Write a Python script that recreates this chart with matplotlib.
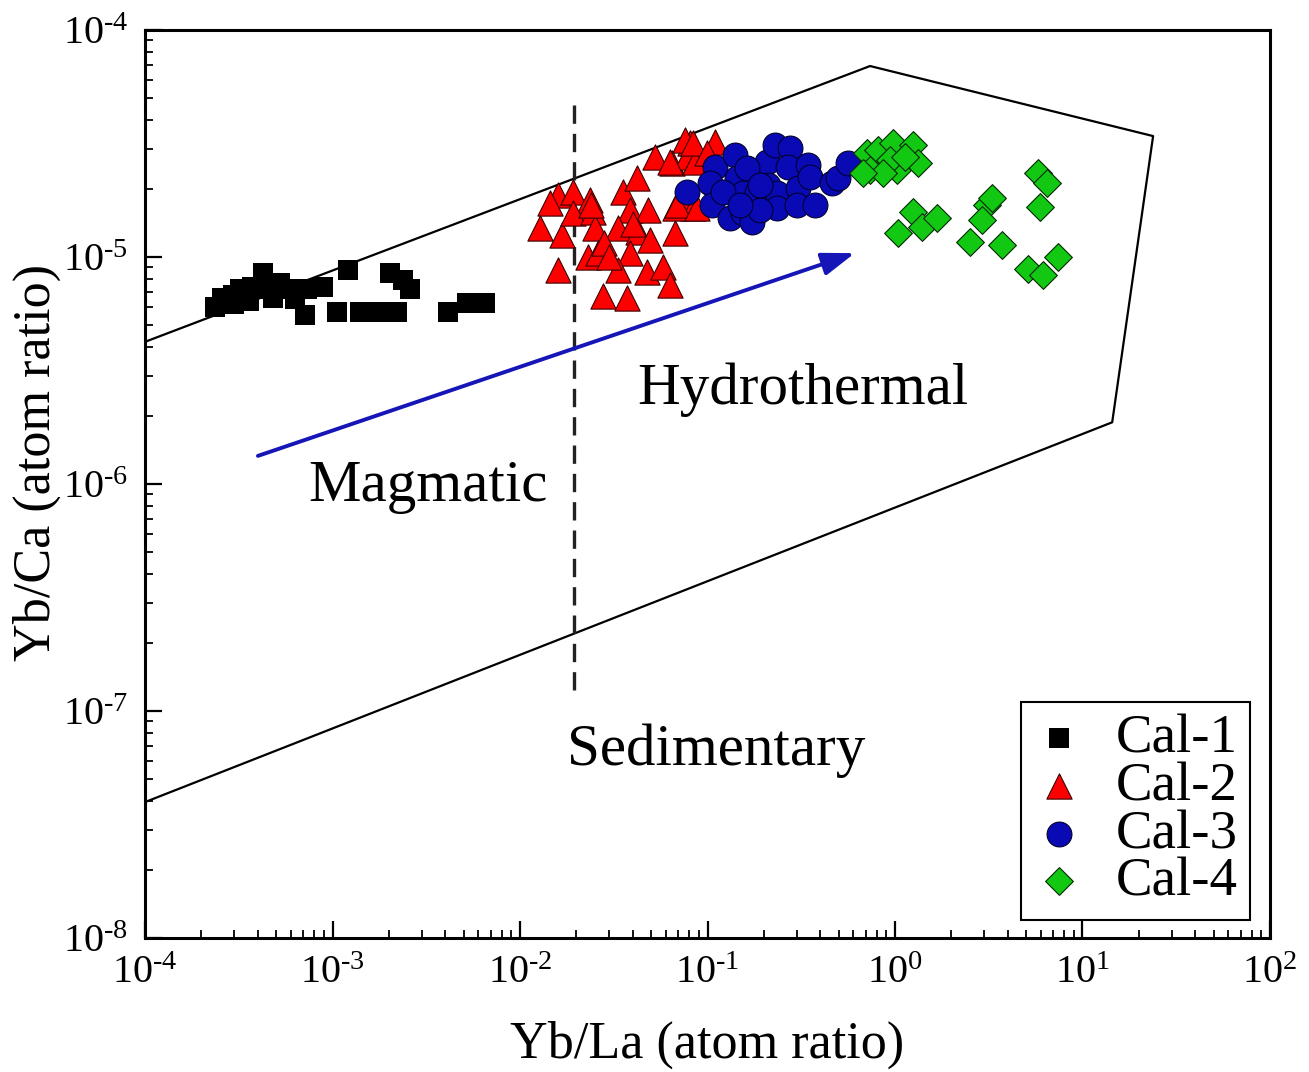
import matplotlib
matplotlib.use('Agg')
import matplotlib.pyplot as plt
from matplotlib.ticker import FuncFormatter
import numpy as np

plt.rcParams['font.family'] = ['Liberation Serif', 'DejaVu Serif']
plt.rcParams['mathtext.fontset'] = 'custom'
plt.rcParams['mathtext.rm'] = 'Liberation Serif'
plt.rcParams['mathtext.it'] = 'Liberation Serif:italic'
plt.rcParams['mathtext.bf'] = 'Liberation Serif:bold'

# Cal-1
cal1_x = [2.36e-4, 2.57e-4, 2.95e-4, 3.21e-4, 3.72e-4, 4.26e-4, 4.21e-4, 5.25e-4,
          5.72e-4, 7.3e-4, 8.9e-4, 7.1e-4, 1.06e-3, 1.40e-3, 1.73e-3, 2.21e-3,
          1.21e-3, 2.03e-3, 2.38e-3, 2.59e-3, 4.13e-3, 5.2e-3, 6.5e-3,
          3.0e-4, 4.8e-4, 6.3e-4, 3.6e-4]
cal1_y = [6.0e-6, 6.6e-6, 6.8e-6, 7.2e-6, 7.4e-6, 8.5e-6, 7.2e-6, 7.7e-6,
          7.2e-6, 7.2e-6, 7.4e-6, 5.55e-6, 5.7e-6, 5.7e-6, 5.7e-6, 5.7e-6,
          8.8e-6, 8.5e-6, 7.9e-6, 7.2e-6, 5.7e-6, 6.3e-6, 6.3e-6,
          6.2e-6, 6.6e-6, 6.5e-6, 6.4e-6]

# Cal-2
cal2_x = [0.0160, 0.0145, 0.0192, 0.0236, 0.0128, 0.0168, 0.0192, 0.0245, 0.0251,
          0.0231, 0.0261, 0.0160, 0.0354, 0.0421, 0.0386, 0.0482, 0.0334, 0.0426,
          0.0493, 0.0386, 0.0334, 0.0475, 0.0579, 0.0277, 0.0372, 0.0631, 0.0671,
          0.0525, 0.0647, 0.0807, 0.0778, 0.0858, 0.0713, 0.0837, 0.0671, 0.0759,
          0.0837, 0.1096, 0.0631, 0.028, 0.030, 0.040, 0.024, 0.0688, 0.0879, 0.0994]
cal2_y = [1.87e-5, 1.73e-5, 1.93e-5, 1.78e-5, 1.34e-5, 1.25e-5, 1.56e-5, 1.58e-5, 1.34e-5,
          1.0e-5, 1.04e-5, 8.8e-6, 1.93e-5, 2.23e-5, 1.61e-5, 1.61e-5, 1.34e-5, 1.29e-5,
          1.19e-5, 1.04e-5, 8.8e-6, 8.6e-6, 9.0e-6, 6.7e-6, 6.6e-6, 7.5e-6, 1.28e-5,
          2.76e-5, 2.60e-5, 3.18e-5, 2.76e-5, 2.62e-5, 1.78e-5, 1.64e-5, 1.64e-5, 3.28e-5,
          3.18e-5, 3.21e-5, 2.62e-5, 1.15e-5, 1.0e-5, 1.4e-5, 1.7e-5, 1.69e-5, 1.64e-5, 2.87e-5]

# Cal-3
cal3_x = [0.078, 0.110, 0.103, 0.106, 0.140, 0.144, 0.155, 0.132, 0.155, 0.173,
          0.184, 0.208, 0.210, 0.229, 0.275, 0.269, 0.235, 0.235, 0.191, 0.304,
          0.300, 0.344, 0.352, 0.374, 0.461, 0.497, 0.561, 0.163, 0.121, 0.191, 0.149]
cal3_y = [1.93e-5, 2.49e-5, 2.12e-5, 1.69e-5, 2.81e-5, 2.23e-5, 1.91e-5, 1.48e-5, 1.56e-5, 1.43e-5,
          1.93e-5, 2.62e-5, 2.08e-5, 3.11e-5, 3.02e-5, 2.49e-5, 1.91e-5, 1.64e-5, 1.61e-5, 2.01e-5,
          1.69e-5, 2.54e-5, 2.25e-5, 1.69e-5, 2.12e-5, 2.23e-5, 2.60e-5, 2.47e-5, 1.93e-5, 2.08e-5, 1.69e-5]

# Cal-4
cal4_x = [0.709, 0.811, 0.736, 0.975, 1.025, 0.940, 1.247, 1.327, 1.130, 0.863, 0.675,
          1.247, 1.393, 1.675, 1.037, 3.10, 3.29, 2.91, 2.51, 3.72,
          5.79, 6.47, 5.93, 5.12, 6.15, 7.40]
cal4_y = [2.87e-5, 2.96e-5, 2.42e-5, 3.18e-5, 2.42e-5, 2.68e-5, 3.11e-5, 2.60e-5, 2.76e-5, 2.34e-5, 2.34e-5,
          1.58e-5, 1.36e-5, 1.48e-5, 1.28e-5, 1.69e-5, 1.82e-5, 1.46e-5, 1.16e-5, 1.13e-5,
          2.34e-5, 2.12e-5, 1.66e-5, 8.9e-6, 8.3e-6, 1.0e-5]

# hydrothermal field outline
field_x = [1e-4, 0.736, 23.8, 14.4, 1e-4]
field_y = [4.23e-6, 6.94e-5, 3.41e-5, 1.87e-6, 3.97e-8]

# magmatic / sedimentary divider
divider_x = 0.0194
divider_y = [1.24e-7, 4.68e-5]

# evolution arrow
arrow_start = (4.0e-4, 1.33e-6)
arrow_end = (0.61, 1.04e-5)


def pow10(v, pos):
    n = int(round(np.log10(v)))
    if n < 0:
        return r'$10^{\text{-%d}}$' % (-n)
    return r'$10^{%d}$' % n


fig = plt.figure(figsize=(13.09, 10.72), dpi=100)
ax = fig.add_axes([0.1108, 0.125, 0.8594, 0.847])

ax.plot(field_x, field_y, color='black', lw=1.6, zorder=1)
ax.plot([divider_x, divider_x], divider_y, color='#222222', lw=2.4,
        linestyle=(0, (5.5, 3)), zorder=1)
ax.annotate('', xy=arrow_end, xytext=arrow_start,
            arrowprops=dict(arrowstyle='-|>,head_length=2.0,head_width=0.7',
                            color='#1616b8', lw=2.8, shrinkA=0, shrinkB=0), zorder=2)

ax.scatter(cal1_x, cal1_y, marker='s', s=200, color='black', linewidths=0, label='Cal-1', zorder=3)
ax.scatter(cal2_x, cal2_y, marker='^', s=330, facecolor='#ff0000', edgecolor='#3a0000',
           linewidths=0.8, label='Cal-2', zorder=4)
ax.scatter(cal3_x, cal3_y, marker='o', s=320, facecolor='#0a0ab4', edgecolor='#000030',
           linewidths=0.8, label='Cal-3', zorder=5)
ax.scatter(cal4_x, cal4_y, marker='D', s=200, facecolor='#12c812', edgecolor='#062806',
           linewidths=0.8, label='Cal-4', zorder=6)

ax.text(0.585, 0.604, 'Hydrothermal', transform=ax.transAxes, fontsize=42.5,
        ha='center', va='center')
ax.text(0.2516, 0.497, 'Magmatic', transform=ax.transAxes, fontsize=42.5,
        ha='center', va='center')
ax.text(0.508, 0.206, 'Sedimentary', transform=ax.transAxes, fontsize=42.5,
        ha='center', va='center')

ax.set_xscale('log')
ax.set_yscale('log')
ax.set_xlim(1e-4, 1e2)
ax.set_ylim(1e-8, 1e-4)
ax.xaxis.set_major_formatter(FuncFormatter(pow10))
ax.yaxis.set_major_formatter(FuncFormatter(pow10))

ax.set_xlabel('Yb/La (atom ratio)', fontsize=37.5, labelpad=21)
ax.set_ylabel('Yb/Ca (atom ratio)', fontsize=37.5)
ax.yaxis.set_label_coords(-0.0747, 0.524)

ax.tick_params(which='both', direction='in', top=False, right=False)
ax.tick_params(which='major', length=12, width=1.6, labelsize=29, pad=12)
ax.tick_params(which='minor', length=6, width=1.3)
for sp in ax.spines.values():
    sp.set_linewidth(2.2)

leg = ax.legend(loc='lower right', bbox_to_anchor=(0.982, 0.02), fontsize=39.5,
                frameon=True, fancybox=False, edgecolor='black', framealpha=1,
                borderpad=0.22, handlelength=0.95, handletextpad=0.55, labelspacing=-0.05,
                borderaxespad=0)
leg.get_frame().set_linewidth(1.5)

fig.savefig('out.png', dpi=100)
